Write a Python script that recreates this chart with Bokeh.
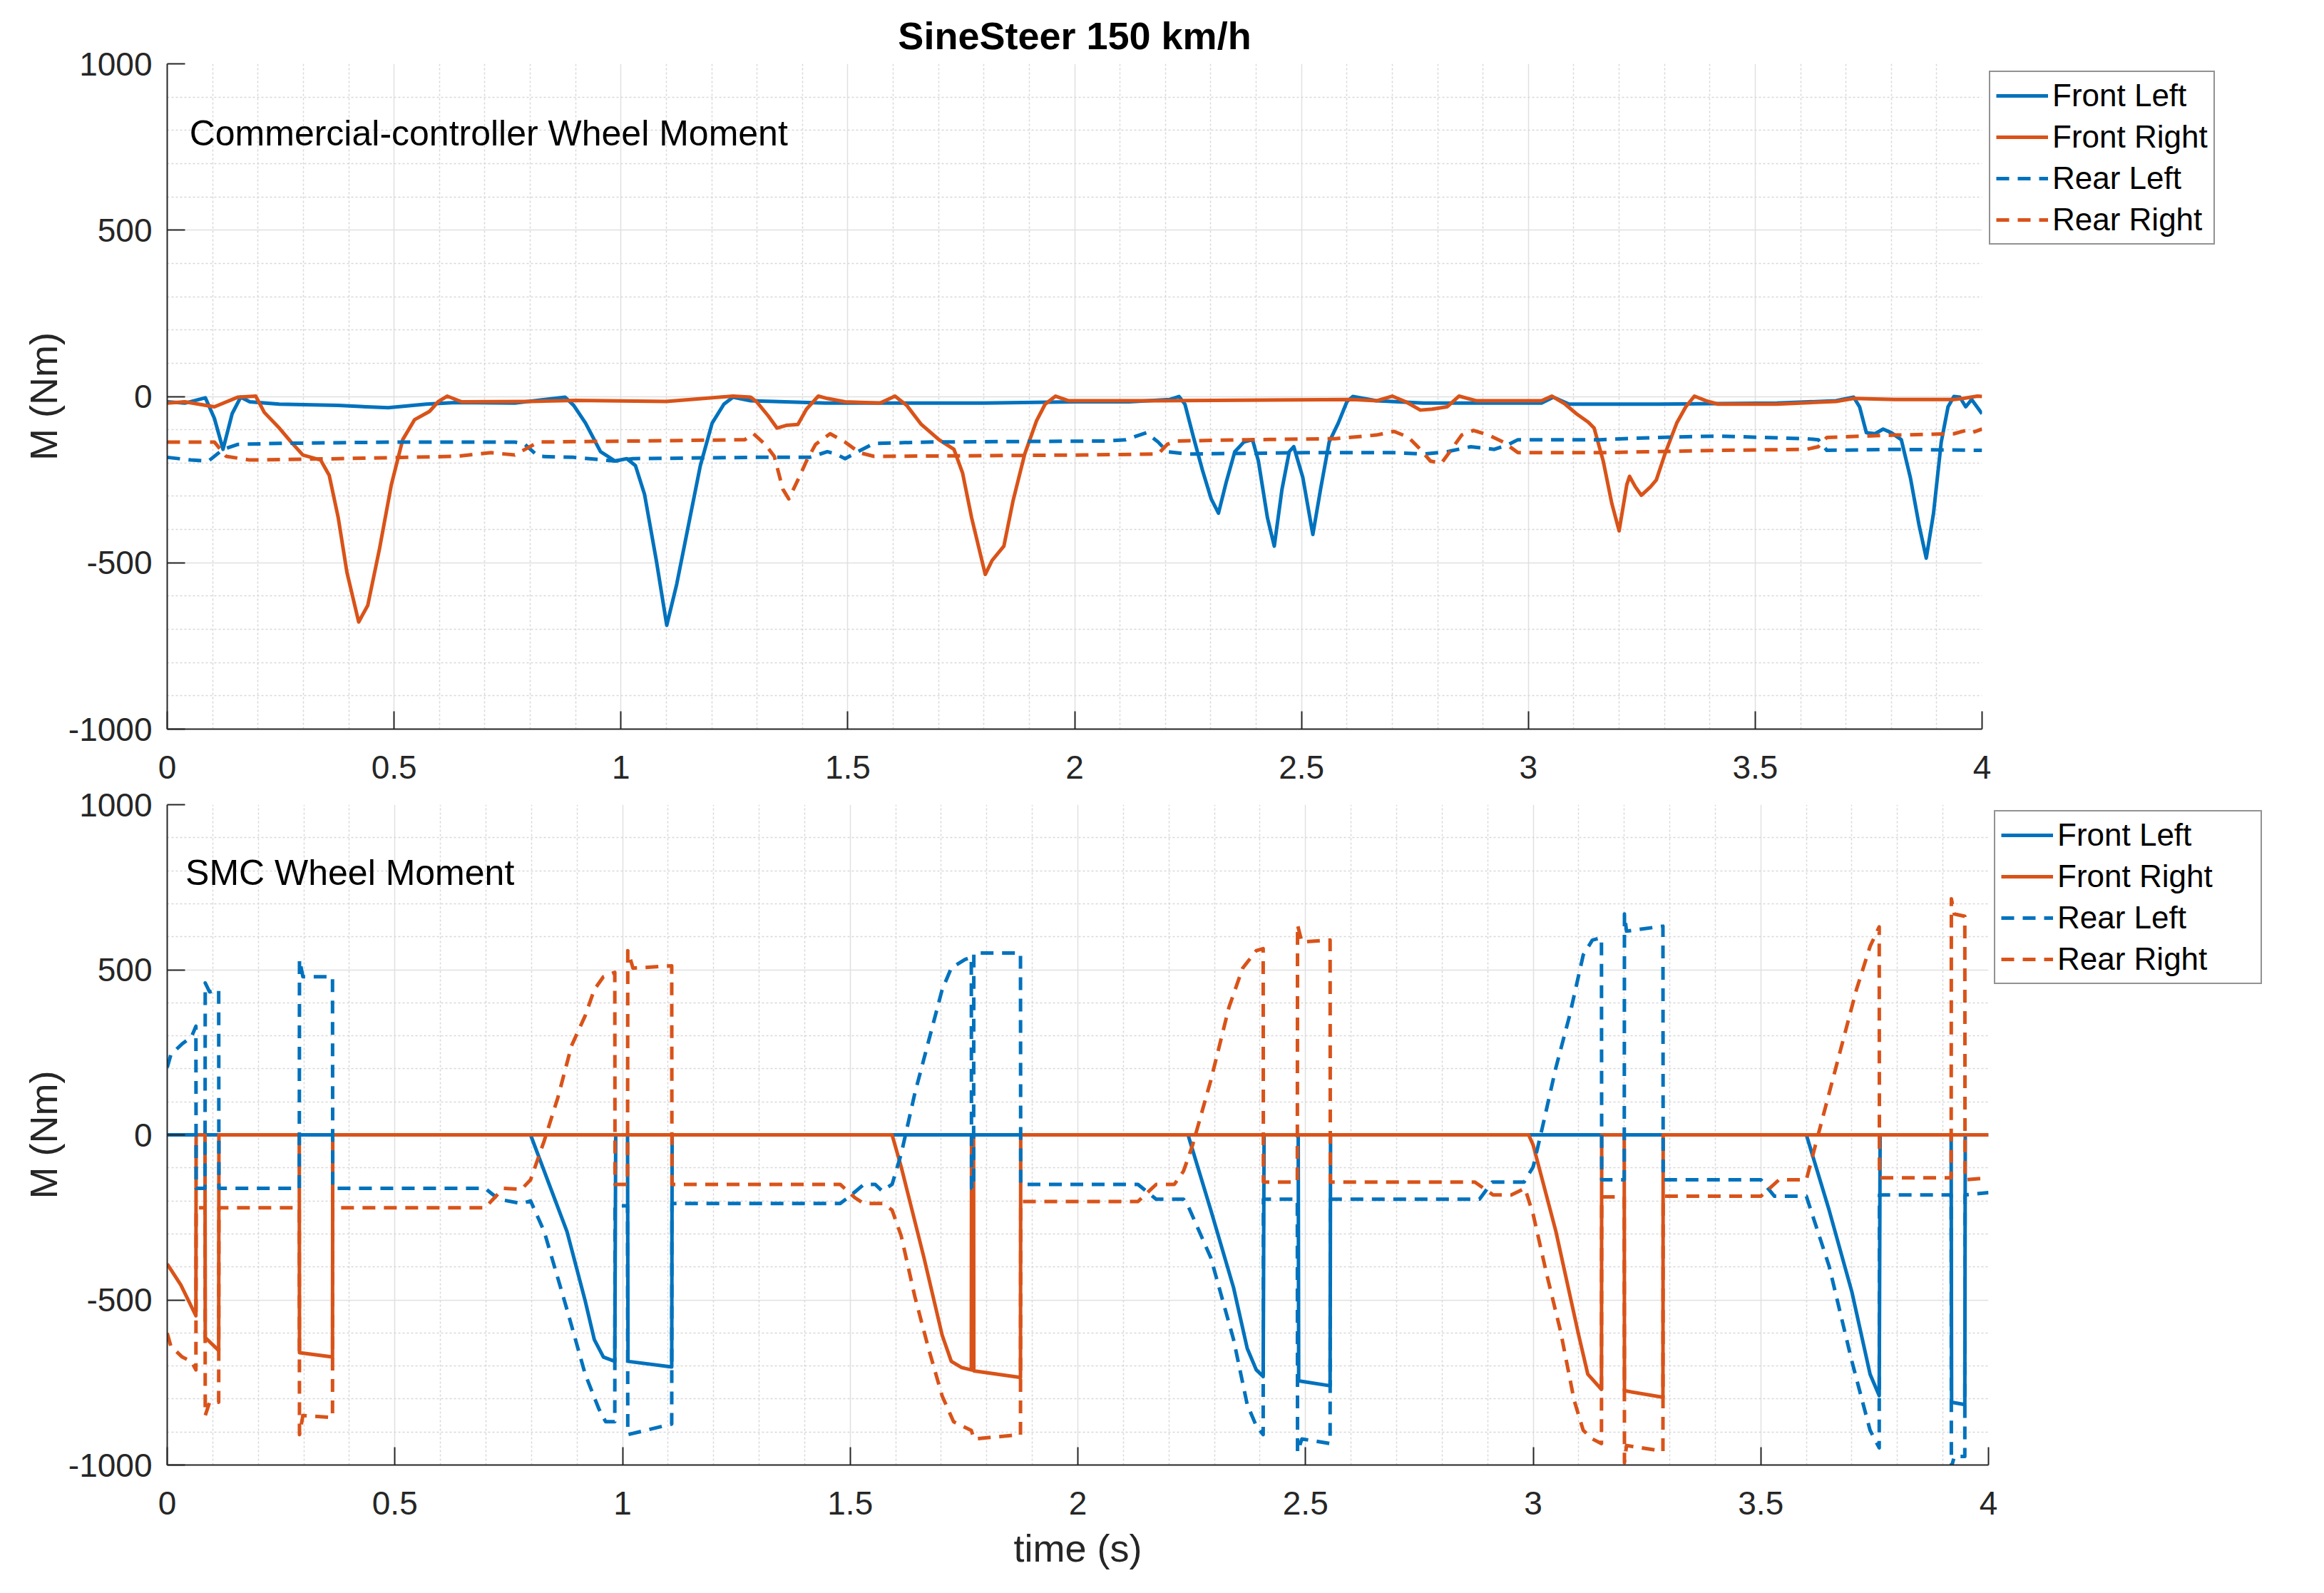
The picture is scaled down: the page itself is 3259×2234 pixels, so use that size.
from bokeh.plotting import figure
from bokeh.models import Range1d, FixedTicker, Legend, LegendItem, Label
from bokeh.layouts import column
from bokeh.embed import file_html
from bokeh.resources import INLINE

BLUE = "#0072BD"
ORANGE = "#D95319"
FONT = "Liberation Sans"

# ---------------- data (time s, moment Nm) ----------------
X_TICKS = [0, 0.5, 1, 1.5, 2, 2.5, 3, 3.5, 4]
X_TICK_LABELS = ["0", "0.5", "1", "1.5", "2", "2.5", "3", "3.5", "4"]
Y_TICKS = [-1000, -500, 0, 500, 1000]
Y_TICK_LABELS = ["-1000", "-500", "0", "500", "1000"]
SERIES_NAMES = ["Front Left", "Front Right", "Rear Left", "Rear Right"]

TOP_FL = [(0, -16), (0.039, -20), (0.084, -4), (0.104, -66), (0.123, -159), (0.143, -52), (0.162, -2),
          (0.182, -16), (0.247, -23), (0.377, -27), (0.487, -34), (0.571, -23), (0.636, -18), (0.766, -20),
          (0.877, -2), (0.896, -27), (0.922, -80), (0.955, -166), (0.987, -194), (1.013, -187), (1.032, -208),
          (1.052, -294), (1.078, -493), (1.101, -688), (1.123, -564), (1.149, -386), (1.175, -208),
          (1.201, -80), (1.227, -23), (1.247, -2), (1.286, -13), (1.45, -20), (1.6, -20), (1.8, -20),
          (2.0, -16), (2.12, -16), (2.21, -9), (2.23, 0), (2.243, -23), (2.262, -123), (2.282, -223),
          (2.301, -308), (2.317, -351), (2.334, -258), (2.353, -166), (2.373, -137), (2.392, -130),
          (2.405, -194), (2.425, -365), (2.440, -450), (2.457, -279), (2.473, -166), (2.483, -151),
          (2.503, -244), (2.525, -415), (2.542, -279), (2.561, -137), (2.581, -80), (2.6, -16), (2.613, 0),
          (2.665, -13), (2.769, -20), (3.029, -20), (3.055, -2), (3.09, -23), (3.288, -23), (3.548, -20),
          (3.678, -13), (3.717, -2), (3.73, -31), (3.745, -109), (3.764, -112), (3.782, -98), (3.80, -109),
          (3.822, -130), (3.842, -244), (3.861, -386), (3.877, -486), (3.893, -351), (3.91, -137),
          (3.925, -31), (3.938, 0), (3.951, -2), (3.964, -31), (3.977, -9), (4.0, -52)]

TOP_FR = [(0, -20), (0.039, -16), (0.104, -31), (0.156, -2), (0.195, 1), (0.214, -48), (0.247, -95),
          (0.273, -137), (0.299, -176), (0.338, -191), (0.357, -237), (0.377, -365), (0.396, -528),
          (0.422, -678), (0.442, -628), (0.468, -457), (0.494, -265), (0.519, -130), (0.545, -70),
          (0.578, -45), (0.597, -16), (0.617, 1), (0.649, -16), (0.8, -15), (0.9, -12), (1.1, -15),
          (1.247, 1), (1.286, -2), (1.299, -16), (1.325, -59), (1.344, -95), (1.364, -87), (1.390, -84),
          (1.409, -38), (1.435, 1), (1.455, -6), (1.494, -16), (1.571, -20), (1.604, 1), (1.630, -27),
          (1.662, -84), (1.701, -130), (1.734, -159), (1.753, -230), (1.773, -365), (1.803, -535),
          (1.818, -493), (1.844, -450), (1.864, -315), (1.890, -173), (1.916, -73), (1.935, -23),
          (1.958, 1), (1.987, -13), (2.184, -13), (2.613, -9), (2.665, -13), (2.70, 1), (2.73, -16),
          (2.762, -41), (2.788, -38), (2.821, -31), (2.847, 1), (2.886, -13), (3.029, -13), (3.052, 1),
          (3.081, -23), (3.106, -52), (3.132, -77), (3.145, -95), (3.165, -194), (3.184, -322),
          (3.2, -404), (3.217, -265), (3.223, -240), (3.236, -272), (3.249, -297), (3.269, -272),
          (3.282, -251), (3.301, -173), (3.327, -80), (3.347, -31), (3.366, 1), (3.392, -13),
          (3.418, -23), (3.548, -23), (3.678, -15), (3.717, -6), (3.808, -9), (3.938, -9), (3.958, -6),
          (3.99, 1), (4.0, 0)]

TOP_RL = [(0, -183), (0.052, -191), (0.091, -194), (0.123, -159), (0.156, -144), (0.247, -141),
          (0.506, -137), (0.766, -137), (0.786, -141), (0.818, -180), (0.896, -183), (0.987, -194),
          (1.026, -187), (1.286, -183), (1.416, -183), (1.455, -166), (1.474, -173), (1.494, -187),
          (1.532, -159), (1.558, -141), (1.675, -137), (2.068, -134), (2.113, -130), (2.158, -109),
          (2.184, -137), (2.204, -166), (2.249, -173), (2.509, -169), (2.704, -169), (2.769, -173),
          (2.821, -166), (2.873, -151), (2.925, -159), (2.957, -144), (2.977, -130), (3.158, -130),
          (3.288, -123), (3.418, -119), (3.613, -127), (3.639, -130), (3.658, -162), (3.808, -159),
          (4.0, -162)]

TOP_RR = [(0, -137), (0.104, -137), (0.130, -180), (0.182, -191), (0.377, -187), (0.636, -180),
          (0.714, -169), (0.766, -176), (0.818, -137), (1.026, -134), (1.273, -130), (1.292, -112),
          (1.318, -144), (1.338, -180), (1.357, -279), (1.370, -308), (1.390, -251), (1.409, -194),
          (1.429, -144), (1.461, -112), (1.494, -137), (1.526, -169), (1.558, -180), (2.02, -176),
          (2.184, -173), (2.204, -144), (2.223, -134), (2.379, -130), (2.574, -127), (2.665, -116),
          (2.704, -105), (2.736, -123), (2.762, -159), (2.784, -194), (2.808, -201), (2.827, -166),
          (2.853, -116), (2.879, -102), (2.912, -116), (2.945, -137), (2.977, -169), (3.158, -169),
          (3.418, -162), (3.613, -159), (3.639, -151), (3.658, -123), (3.808, -116), (3.938, -112),
          (3.964, -102), (3.977, -109), (4.0, -98)]

BOT_FL = [(0, 0), (0.798, 0), (0.828, -110), (0.878, -293), (0.918, -503), (0.938, -620), (0.958, -673),
          (0.983, -686), (0.985, 0), (1.011, 0), (1.012, -686), (1.108, -703), (1.109, 0), (2.242, 0),
          (2.292, -228), (2.342, -463), (2.372, -647), (2.392, -712), (2.407, -732), (2.409, 0),
          (2.484, 0), (2.485, -745), (2.554, -760), (2.555, 0), (3.6, 0), (3.65, -228), (3.7, -476),
          (3.74, -725), (3.76, -790), (3.762, 0), (3.918, 0), (3.919, -810), (3.948, -817), (3.949, 0),
          (4.0, 0)]

BOT_FR = [(0, -391), (0.03, -455), (0.063, -548), (0.0635, 0), (0.083, 0), (0.0835, -614), (0.113, -653),
          (0.1135, 0), (0.29, 0), (0.2905, -660), (0.363, -673), (0.3635, 0), (1.592, 0), (1.612, -97),
          (1.662, -372), (1.702, -607), (1.722, -686), (1.745, -705), (1.766, -712), (1.7665, 0),
          (1.771, 0), (1.7715, -715), (1.874, -735), (1.8745, 0), (2.99, 0), (3.0, -31), (3.05, -293),
          (3.1, -607), (3.12, -725), (3.15, -771), (3.1505, 0), (3.2, 0), (3.2005, -775), (3.285, -795),
          (3.2855, 0), (4.0, 0)]

BOT_RL = [(0, 204), (0.008, 243), (0.033, 276), (0.053, 296), (0.063, 329), (0.0635, -162), (0.083, -162),
          (0.0835, 460), (0.093, 433), (0.113, 440), (0.1135, -162), (0.29, -162), (0.2905, 531),
          (0.298, 479), (0.363, 479), (0.3635, -162), (0.698, -162), (0.728, -195), (0.778, -208),
          (0.798, -200), (0.828, -293), (0.878, -529), (0.918, -725), (0.948, -830), (0.963, -869),
          (0.983, -869), (0.9835, -215), (1.011, -215), (1.0115, -908), (1.108, -876), (1.1085, -208),
          (1.478, -208), (1.50, -185), (1.53, -150), (1.555, -150), (1.57, -170), (1.592, -150),
          (1.612, -58), (1.642, 126), (1.672, 283), (1.702, 440), (1.722, 505), (1.752, 531),
          (1.766, 538), (1.7665, -162), (1.771, -162), (1.7715, 551), (1.874, 551), (1.8745, -150),
          (2.132, -150), (2.172, -195), (2.232, -195), (2.242, -215), (2.292, -372), (2.342, -620),
          (2.372, -817), (2.392, -882), (2.407, -908), (2.4075, -195), (2.482, -195), (2.4825, -961),
          (2.492, -921), (2.554, -935), (2.5545, -195), (2.882, -195), (2.91, -143), (2.98, -143),
          (3.0, -97), (3.02, 21), (3.05, 204), (3.08, 361), (3.11, 545), (3.13, 590), (3.15, 597),
          (3.1505, -136), (3.2, -136), (3.2005, 669), (3.205, 617), (3.285, 632), (3.2855, -136),
          (3.5, -136), (3.53, -186), (3.6, -186), (3.65, -398), (3.7, -686), (3.74, -895), (3.76, -948),
          (3.7605, -182), (3.918, -182), (3.9185, -1007), (3.925, -974), (3.948, -974), (3.9485, -182),
          (4.0, -175)]

BOT_RR = [(0, -601), (0.008, -640), (0.033, -673), (0.053, -686), (0.063, -712), (0.0635, -221),
          (0.083, -221), (0.0835, -850), (0.093, -810), (0.113, -810), (0.1135, -221), (0.29, -221),
          (0.2905, -908), (0.298, -850), (0.363, -856), (0.3635, -221), (0.698, -221), (0.738, -162),
          (0.778, -165), (0.798, -136), (0.828, -18), (0.858, 113), (0.888, 270), (0.918, 361),
          (0.938, 440), (0.958, 479), (0.983, 492), (0.9835, -150), (1.011, -150), (1.0115, 558),
          (1.023, 505), (1.108, 512), (1.1085, -150), (1.478, -150), (1.51, -190), (1.53, -208),
          (1.572, -208), (1.592, -228), (1.612, -306), (1.642, -490), (1.672, -647), (1.702, -791),
          (1.727, -869), (1.766, -895), (1.772, -921), (1.874, -908), (1.8745, -202), (2.132, -202),
          (2.172, -150), (2.212, -150), (2.232, -110), (2.252, -31), (2.292, 165), (2.332, 387),
          (2.362, 505), (2.392, 558), (2.407, 564), (2.4075, -143), (2.482, -143), (2.4825, 636),
          (2.492, 584), (2.554, 590), (2.5545, -143), (2.872, -143), (2.912, -182), (2.952, -182),
          (2.982, -162), (3.0, -241), (3.03, -424), (3.06, -594), (3.09, -804), (3.11, -895),
          (3.13, -921), (3.15, -935), (3.1505, -188), (3.2, -188), (3.2005, -993), (3.205, -941),
          (3.285, -958), (3.2855, -186), (3.5, -186), (3.54, -136), (3.6, -136), (3.62, -31),
          (3.65, 126), (3.68, 283), (3.71, 440), (3.74, 571), (3.76, 630), (3.7605, -130), (3.918, -130),
          (3.9185, 715), (3.925, 669), (3.948, 662), (3.9485, -136), (4.0, -130)]

X_MINOR = [round(i * 0.1, 2) for i in range(41) if i % 5]
Y_MINOR = [v for v in range(-1000, 1001, 100) if v % 500]

AXIS_COLOR = "#262626"


def make_fig(frame_w, frame_h, b_top, b_bottom, b_right, title=None, xlabel=None):
    p = figure(frame_width=frame_w, frame_height=frame_h,
               x_range=Range1d(0, 4), y_range=Range1d(-1000, 1000),
               output_backend="svg", toolbar_location=None,
               min_border_left=234, min_border_right=b_right,
               min_border_top=b_top, min_border_bottom=b_bottom,
               title=title)
    p.outline_line_color = None
    p.background_fill_color = "white"
    p.border_fill_color = "white"
    if title:
        p.title.text_font = FONT
        p.title.text_font_size = "54px"
        p.title.text_font_style = "bold"
        p.title.text_color = "black"
        p.title.align = "center"
        p.title.standoff = 20
    p.xaxis.ticker = FixedTicker(ticks=X_TICKS, minor_ticks=X_MINOR)
    p.yaxis.ticker = FixedTicker(ticks=Y_TICKS, minor_ticks=Y_MINOR)
    p.xaxis.major_label_overrides = {float(k): l for k, l in zip(X_TICKS, X_TICK_LABELS)}
    p.yaxis.major_label_overrides = {float(k): l for k, l in zip(Y_TICKS, Y_TICK_LABELS)}
    for ax in (p.xaxis[0], p.yaxis[0]):
        ax.axis_line_color = AXIS_COLOR
        ax.axis_line_width = 2
        ax.major_tick_line_color = AXIS_COLOR
        ax.major_tick_line_width = 2
        ax.major_tick_in = 25
        ax.major_tick_out = 0
        ax.minor_tick_line_color = None
        ax.major_label_text_font = FONT
        ax.major_label_text_font_size = "46px"
        ax.major_label_text_color = AXIS_COLOR
        ax.axis_label_text_font = FONT
        ax.axis_label_text_font_size = "54px"
        ax.axis_label_text_font_style = "normal"
        ax.axis_label_text_color = AXIS_COLOR
    p.yaxis.major_label_standoff = 17
    p.xaxis.major_label_standoff = 33
    p.yaxis.axis_label = "M (Nm)"
    p.yaxis.axis_label_standoff = 2
    if xlabel:
        p.xaxis.axis_label = xlabel
        p.xaxis.axis_label_standoff = 14
    for g in (p.xgrid[0], p.ygrid[0]):
        g.grid_line_color = "#e0e0e0"
        g.grid_line_width = 1.5
        g.minor_grid_line_color = "#d8d8d8"
        g.minor_grid_line_width = 1.5
        g.minor_grid_line_dash = "3 3"
    return p


def draw(p, series, legend_kw):
    styles = [(BLUE, "solid"), (ORANGE, "solid"), (BLUE, "18 12"), (ORANGE, "18 12")]
    items = []
    for name, data, (col, dash) in zip(SERIES_NAMES, series, styles):
        xs = [d[0] for d in data]
        ys = [d[1] for d in data]
        r = p.line(xs, ys, line_color=col, line_width=5, line_dash=dash, line_join="round")
        items.append(LegendItem(label=name, renderers=[r]))
    leg = Legend(items=items, location="top_left",
                 label_text_font=FONT, label_text_font_size="44px", label_text_color="black",
                 glyph_width=73, glyph_height=46, label_height=46, spacing=8, padding=8,
                 label_standoff=6, border_line_color=AXIS_COLOR, border_line_width=2,
                 background_fill_color="white", background_fill_alpha=1.0, **legend_kw)
    p.add_layout(leg, "right")


p1 = make_fig(2545, 933, 89, 80, 465, title="SineSteer 150 km/h")
draw(p1, [TOP_FL, TOP_FR, TOP_RL, TOP_RR], dict(margin=10))
p1.add_layout(Label(x=0.049, y=792, text="Commercial-controller Wheel Moment",
                    text_font=FONT, text_font_size="50px", text_baseline="middle",
                    text_color="black"))

p2 = make_fig(2554, 926, 26, 160, 455, xlabel="time (s)")
draw(p2, [BOT_FL, BOT_FR, BOT_RL, BOT_RR], dict(margin=8, label_width=277))
p2.add_layout(Label(x=0.040, y=793, text="SMC Wheel Moment",
                    text_font=FONT, text_font_size="50px", text_baseline="middle",
                    text_color="black"))

layout = column(p1, p2, spacing=0)
open("out.html", "w").write(file_html(layout, INLINE))
